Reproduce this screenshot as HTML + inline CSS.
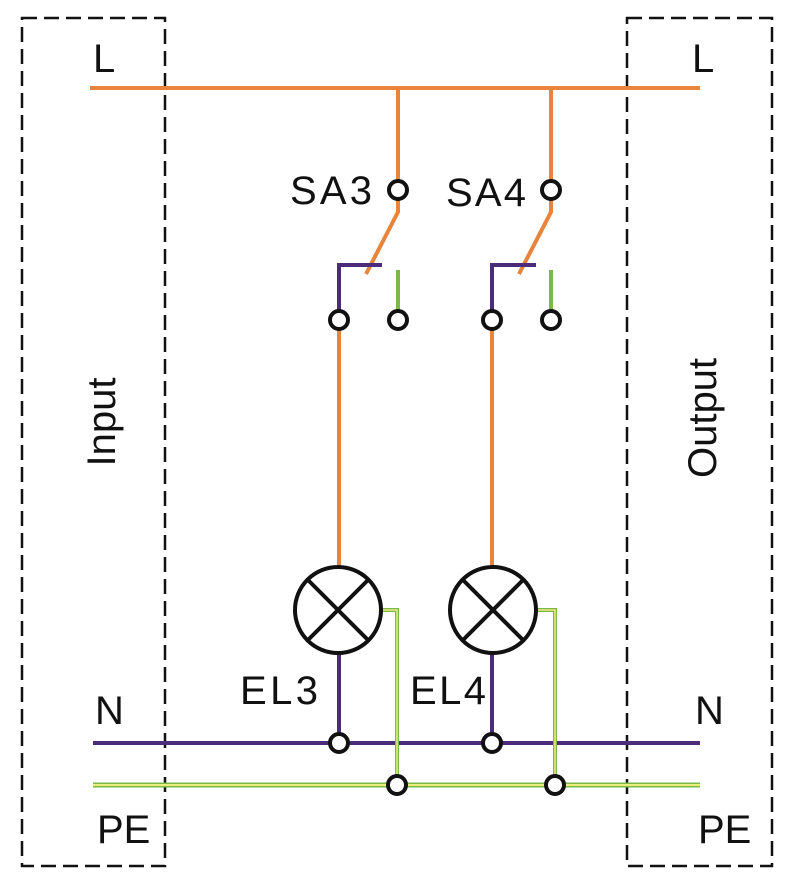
<!DOCTYPE html>
<html><head><style>body{margin:0;background:#fff}</style></head><body>
<svg width="792" height="888" xmlns="http://www.w3.org/2000/svg" font-family="Liberation Sans, sans-serif" font-size="40">
<g fill="none" stroke="#111" stroke-width="2.5" stroke-dasharray="15,7">
<rect x="22" y="18" width="143" height="848"/>
<rect x="627" y="18" width="145" height="848"/>
</g>
<g stroke="#e8843c" stroke-width="4" fill="none">
<line x1="90" y1="88" x2="700" y2="88"/>
<line x1="398" y1="88" x2="398" y2="180"/>
<line x1="551" y1="88" x2="551" y2="180"/>
<polyline points="398,200 398,212 366,274"/>
<polyline points="551,200 551,212 519,274"/>
<line x1="339" y1="330" x2="339" y2="567"/>
<line x1="492" y1="330" x2="492" y2="567"/>
</g>
<g stroke="#4a2c7a" stroke-width="4" fill="none">
<polyline points="339,310 339,265 382,265"/>
<polyline points="492,310 492,265 536,265"/>
<line x1="339" y1="653" x2="339" y2="735"/>
<line x1="492" y1="653" x2="492" y2="735"/>
<line x1="93" y1="743" x2="700" y2="743"/>
</g>
<g fill="none">
<line x1="398" y1="270" x2="398" y2="310" stroke="#7bb84a" stroke-width="4"/>
<line x1="551" y1="270" x2="551" y2="310" stroke="#7bb84a" stroke-width="4"/>
<polyline points="382,610 397,610 397,776" stroke="#7bb84a" stroke-width="4"/>
<polyline points="536,610 555,610 555,776" stroke="#7bb84a" stroke-width="4"/>
<line x1="93" y1="785" x2="700" y2="785" stroke="#7bb84a" stroke-width="5"/>
<line x1="93" y1="785" x2="700" y2="785" stroke="#eeee80" stroke-width="2"/>
<polyline points="382,610 397,610 397,776" stroke="#eeee80" stroke-width="1.5"/>
<polyline points="536,610 555,610 555,776" stroke="#eeee80" stroke-width="1.5"/>
</g>
<g stroke="#111" stroke-width="4" fill="#fff">
<circle cx="398" cy="190" r="9"/><circle cx="551" cy="190" r="9"/>
<circle cx="339" cy="320" r="9"/><circle cx="398" cy="320" r="9"/>
<circle cx="492" cy="320" r="9"/><circle cx="551" cy="320" r="9"/>
<circle cx="339" cy="743" r="9"/><circle cx="492" cy="743" r="9"/>
<circle cx="397" cy="785" r="9"/><circle cx="555" cy="785" r="9"/>
<circle cx="338" cy="610" r="43"/><circle cx="493" cy="610" r="43"/>
<path d="M308,580L368,640M368,580L308,640M463,580L523,640M523,580L463,640" fill="none"/>
</g>
<g fill="#111">
<text x="93" y="72">L</text><text x="692" y="72">L</text>
<text x="95" y="724">N</text><text x="695" y="724">N</text>
<text x="97" y="843">PE</text><text x="698" y="843">PE</text>
<text x="290" y="204" textLength="82">SA3</text><text x="446" y="206" textLength="80">SA4</text>
<text x="240" y="704" textLength="78">EL3</text><text x="410" y="704" textLength="76">EL4</text>
<text transform="translate(115,422) rotate(-90)" text-anchor="middle">Input</text>
<text transform="translate(716,418) rotate(-90)" text-anchor="middle">Output</text>
</g>
</svg>
</body></html>
